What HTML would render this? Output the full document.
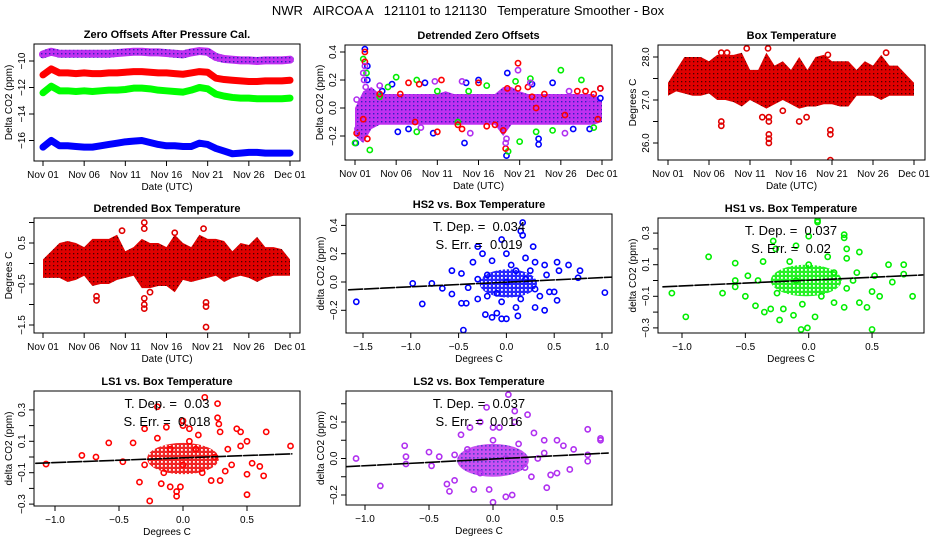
<!DOCTYPE html>
<html><head><meta charset="utf-8"><style>
html,body{margin:0;padding:0;background:#fff;}
svg{display:block;font-family:"Liberation Sans",sans-serif;}
</style></head><body>
<svg id="fig" width="936" height="540" viewBox="0 0 936 540" xmlns="http://www.w3.org/2000/svg">
<defs>
<pattern id="redPat" width="4" height="4" patternUnits="userSpaceOnUse"><rect width="4" height="4" fill="#e00000"/><rect x="1" y="1" width="1.3" height="1.3" fill="#400"/></pattern>
<pattern id="purPat" width="4" height="4" patternUnits="userSpaceOnUse"><rect width="4" height="4" fill="#c030f0"/><rect x="1" y="1" width="1.4" height="1.4" fill="#3020c0"/></pattern>
<pattern id="bluPat" width="4" height="4" patternUnits="userSpaceOnUse"><rect width="4" height="4" fill="#0000ff"/><rect x="1" y="1" width="1.8" height="1.8" fill="#fff"/></pattern>
<pattern id="grnPat" width="4" height="4" patternUnits="userSpaceOnUse"><rect width="4" height="4" fill="#00ee00"/><rect x="1" y="1" width="1.8" height="1.8" fill="#fff"/></pattern>
<pattern id="lsPat" width="4" height="4" patternUnits="userSpaceOnUse"><rect width="4" height="4" fill="#ee0000"/><rect x="1" y="1" width="1.8" height="1.8" fill="#fff"/></pattern>
<pattern id="ls2Pat" width="4" height="4" patternUnits="userSpaceOnUse"><rect width="4" height="4" fill="#c030f0"/><rect x="1" y="1" width="1.6" height="1.6" fill="#3020c0"/></pattern>
</defs>
<text x="468" y="15" font-size="13" text-anchor="middle" style="white-space:pre" xml:space="preserve">NWR   AIRCOA A   121101 to 121130   Temperature Smoother - Box</text>
</svg>
<script>
// ---- data ----
const dayTicks=[0,5,10,15,20,25,30];
const dayLabels=["Nov 01","Nov 06","Nov 11","Nov 16","Nov 21","Nov 26","Dec 01"];
const days=[0,1,2,3,4,5,6,7,8,9,10,11,12,13,14,15,16,17,18,19,20,21,22,23,24,25,26,27,28,29,30];
const offPurple=[-9.5,-9.3,-9.45,-9.45,-9.45,-9.45,-9.45,-9.45,-9.45,-9.4,-9.35,-9.3,-9.3,-9.35,-9.35,-9.4,-9.45,-9.5,-9.35,-9.25,-9.3,-9.7,-9.85,-9.9,-9.95,-9.95,-10.0,-9.95,-9.95,-9.95,-9.9];
const offRed=[-11.05,-10.6,-10.9,-10.9,-10.95,-10.9,-10.95,-10.95,-10.9,-10.9,-10.85,-10.8,-10.8,-10.85,-10.9,-10.9,-10.95,-11.0,-10.9,-10.8,-10.85,-11.3,-11.4,-11.45,-11.5,-11.55,-11.55,-11.5,-11.5,-11.5,-11.45];
const offGreen=[-12.4,-11.9,-12.25,-12.25,-12.3,-12.25,-12.3,-12.25,-12.2,-12.2,-12.15,-12.05,-12.05,-12.1,-12.2,-12.25,-12.3,-12.35,-12.2,-12.0,-12.1,-12.5,-12.65,-12.75,-12.8,-12.8,-12.85,-12.85,-12.85,-12.85,-12.8];
const offBlue=[-16.5,-16.0,-16.4,-16.4,-16.45,-16.5,-16.5,-16.4,-16.3,-16.2,-16.1,-16.05,-16.0,-16.15,-16.3,-16.4,-16.4,-16.45,-16.45,-16.2,-16.3,-16.6,-16.8,-17.0,-16.95,-16.9,-16.9,-16.95,-16.95,-16.95,-16.95];
const dzHi=[0.0,0.12,0.15,0.1,0.1,0.1,0.1,0.1,0.1,0.1,0.1,0.12,0.1,0.1,0.1,0.1,0.1,0.1,0.15,0.15,0.12,0.1,0.1,0.1,0.1,0.1,0.1,0.1,0.1,0.1,0.05];
const dzLo=[-0.2,-0.25,-0.15,-0.12,-0.12,-0.12,-0.12,-0.12,-0.12,-0.12,-0.12,-0.12,-0.12,-0.12,-0.12,-0.12,-0.12,-0.12,-0.2,-0.12,-0.12,-0.12,-0.12,-0.12,-0.12,-0.12,-0.12,-0.12,-0.12,-0.12,-0.1];
const dzBlue=[[0.1,-0.25],[1.2,0.42],[1.5,0.3],[1.5,0.2],[4.5,0.17],[3.3,0.12],[5.2,-0.17],[8.5,0.18],[9.5,-0.18],[13.3,-0.25],[13.5,0.18],[15,0.2],[18.4,-0.34],[18.5,0.25],[21.5,0.17],[22.3,-0.22],[22.3,-0.26],[24,0.18],[29.8,0.14],[29.8,0.07],[26.5,-0.15],[28.5,-0.15],[6.5,-0.15]];
const dzGreen=[[0,-0.25],[1.0,0.35],[1.4,0.25],[1.8,-0.3],[5,0.22],[4,0.15],[7.5,-0.17],[7.5,0.2],[10,0.12],[12.5,-0.1],[13.8,0.12],[16,0.16],[18.6,-0.31],[19.5,0.19],[20,-0.24],[21.3,0.21],[25,0.27],[27.5,0.2],[29,-0.14],[22,-0.17],[24,-0.16],[3,0.08]];
const dzRed=[[0.2,-0.18],[1.2,0.4],[1.2,0.33],[1.5,-0.22],[1.0,-0.08],[3,0.1],[5.5,0.1],[6.5,0.18],[7.3,-0.1],[7.8,0.17],[10.5,0.2],[10,-0.17],[12.5,-0.12],[13,-0.15],[15,0.18],[16,-0.13],[17,-0.12],[18,-0.16],[18.3,-0.29],[18.5,0.14],[19.8,0.32],[19.8,0.14],[21,0.15],[21.5,0.08],[22,0.0],[23,0.1],[25.5,-0.05],[27,0.12],[28,0.12],[29,0.1],[29.8,0.14],[29.5,-0.08]];
const dzPurple=[[0.2,0.06],[1.0,0.25],[1.1,0.2],[1.2,0.3],[1.3,0.15],[1.4,0.1],[0.3,-0.15],[3,0.16],[8.0,-0.14],[9.7,0.19],[13,0.19],[14,-0.18],[18.3,-0.25],[18.4,-0.22],[19.8,0.27],[21.3,0.18],[25.5,-0.18],[26,0.12],[28.5,0.06]];
const btHi=[27.4,27.7,28.0,28.0,28.0,27.9,28.05,28.05,28.05,28.1,27.7,27.7,28.1,27.8,27.9,27.7,28.0,27.7,28.0,28.05,27.9,27.9,27.9,27.7,27.9,27.8,28.05,27.8,27.8,27.6,27.4];
const btLo=[27.1,27.2,27.15,27.1,27.1,27.15,27.0,27.0,26.95,26.85,27.0,26.9,26.8,26.9,27.0,26.9,26.8,26.85,26.85,26.9,26.9,26.85,26.85,27.1,27.1,27.1,27.0,27.1,27.1,27.1,27.1];
const btOut=[[6.5,26.5],[6.5,26.4],[11.5,26.6],[12.3,26.0],[12.3,26.1],[12.3,26.2],[12.3,26.5],[12.3,26.6],[14,26.75],[19.8,26.2],[19.8,26.3],[19.8,25.6],[16,26.5],[16.9,26.6],[12.2,28.2],[9.6,28.2],[7.2,28.1],[6.5,28.1],[19.5,28.05],[26.6,28.1]];
const dbHi=[0.1,0.3,0.5,0.55,0.5,0.4,0.6,0.6,0.6,0.7,0.3,0.4,0.6,0.5,0.5,0.4,0.7,0.5,0.4,0.7,0.6,0.6,0.55,0.3,0.5,0.45,0.65,0.4,0.4,0.35,0.1];
const dbLo=[-0.35,-0.35,-0.35,-0.45,-0.4,-0.3,-0.55,-0.5,-0.5,-0.4,-0.35,-0.3,-0.6,-0.6,-0.55,-0.55,-0.7,-0.4,-0.45,-0.4,-0.35,-0.3,-0.45,-0.35,-0.3,-0.35,-0.45,-0.35,-0.3,-0.3,-0.3];
const dbOut=[[6.5,-0.8],[6.5,-0.9],[12.3,-0.85],[12.3,-1.0],[12.3,-1.1],[12.3,-0.5],[12.3,0.85],[12.3,1.0],[13,-0.7],[19.8,-0.95],[19.8,-1.05],[19.8,-1.55],[19.5,0.85],[16,0.75],[9.6,0.8]];
const hs2Pts=[[-1.57,-0.14],[-0.98,-0.01],[-0.88,-0.155],[-0.78,-0.01],[-0.67,-0.045],[-0.57,0.08],[-0.57,-0.085],[-0.47,0.06],[-0.45,-0.34],[-0.47,-0.15],[-0.42,-0.15],[-0.22,-0.23],[-0.15,-0.25],[-0.1,-0.22],[-0.05,-0.26],[0.0,-0.26],[0.12,-0.24],[0.17,0.42],[0.17,0.33],[0.15,0.36],[-0.05,0.3],[0.28,0.25],[0.3,-0.18],[0.4,-0.2],[0.53,-0.13],[0.53,0.14],[0.55,0.08],[0.65,0.12],[0.77,0.08],[0.75,0.03],[1.03,-0.075],[0.45,-0.07],[0.5,-0.07],[-0.3,0.25],[-0.25,0.2],[-0.35,0.14],[0.2,0.17],[0.4,0.12],[0.3,0.14],[-0.3,-0.12],[0.1,-0.18],[-0.4,-0.04],[0.2,0.02],[-0.2,0.05],[0.0,0.0],[0.1,0.08],[-0.1,-0.08],[0.3,-0.05],[-0.2,-0.1],[0.05,0.12],[-0.15,0.15],[0.25,0.08],[0.35,-0.1],[-0.05,-0.14],[0.15,-0.12],[0.42,0.05],[-0.3,0.02],[0.0,0.2]];
const hs1Pts=[[-1.08,-0.08],[-0.97,-0.23],[-0.79,0.15],[-0.68,-0.08],[-0.58,0.11],[-0.58,0.0],[-0.58,-0.04],[-0.5,-0.1],[-0.48,0.03],[-0.42,-0.16],[-0.36,0.12],[-0.35,-0.2],[-0.3,-0.18],[-0.28,0.25],[-0.26,0.2],[-0.23,-0.25],[-0.2,-0.18],[-0.12,-0.22],[-0.1,0.22],[-0.06,-0.31],[-0.01,-0.3],[0.0,0.28],[0.05,-0.23],[0.07,0.38],[0.07,0.37],[0.28,0.29],[0.28,0.27],[0.3,0.2],[0.28,-0.17],[0.3,0.14],[0.4,0.18],[0.38,0.05],[0.46,-0.17],[0.5,-0.31],[0.52,0.03],[0.56,-0.1],[0.63,0.1],[0.66,-0.01],[0.75,0.1],[0.75,0.04],[0.82,-0.1],[0.5,-0.07],[0.4,-0.14],[0.2,-0.14],[-0.4,0.0],[0.15,0.15],[-0.15,0.12],[0.1,-0.1],[-0.1,0.0],[0.2,0.05],[-0.25,-0.08],[0.3,-0.05],[0.0,0.1],[-0.05,-0.15],[0.35,0.0]];
const ls1Pts=[[-1.07,-0.045],[-0.79,0.01],[-0.68,0.0],[-0.58,0.09],[-0.47,-0.03],[-0.39,0.09],[-0.34,-0.16],[-0.3,0.18],[-0.26,-0.28],[-0.2,0.32],[-0.17,-0.17],[-0.13,0.19],[-0.1,-0.19],[-0.05,-0.22],[-0.05,-0.25],[-0.02,-0.19],[0.0,0.2],[0.0,0.23],[0.05,0.18],[0.17,0.38],[0.27,0.34],[0.27,0.25],[0.28,0.21],[0.29,0.16],[0.22,-0.15],[0.29,-0.15],[0.33,-0.09],[0.42,0.18],[0.45,0.16],[0.5,-0.11],[0.5,-0.24],[0.5,0.1],[0.54,-0.04],[0.6,-0.06],[0.63,-0.12],[0.65,0.16],[0.84,0.07],[0.38,-0.05],[0.45,0.07],[0.12,0.14],[-0.2,0.12],[0.0,-0.05],[0.1,0.05],[-0.1,0.05],[0.25,0.0],[-0.3,-0.05],[0.15,-0.1],[-0.15,-0.1],[0.05,0.1],[0.35,0.05]];
const ls2Pts=[[-1.07,0.0],[-0.88,-0.15],[-0.69,0.07],[-0.68,0.01],[-0.68,-0.03],[-0.5,0.035],[-0.48,-0.04],[-0.42,0.01],[-0.34,-0.18],[-0.36,-0.14],[-0.3,-0.12],[-0.25,0.13],[-0.18,0.17],[-0.15,-0.17],[-0.1,0.2],[-0.05,0.28],[-0.03,-0.17],[0.0,-0.24],[0.0,0.17],[0.05,0.17],[0.1,-0.21],[0.15,-0.2],[0.17,0.2],[0.17,0.26],[0.27,0.24],[0.12,0.35],[0.3,-0.1],[0.32,0.14],[0.4,0.1],[0.42,-0.16],[0.45,-0.09],[0.5,0.1],[0.5,-0.08],[0.55,0.07],[0.6,-0.06],[0.63,0.05],[0.74,0.16],[0.74,-0.015],[0.74,0.02],[0.84,0.1],[0.84,0.11],[0.35,0.0],[-0.2,0.05],[0.1,0.0],[0.2,0.08],[-0.1,-0.08],[0.25,-0.05],[-0.3,0.02],[0.0,0.1],[0.4,0.03]];
const hs2Fit=[-1.65,-0.055,1.12,0.035];
const hs1Fit=[-1.15,-0.04,0.9,0.035];
const ls1Fit=[-1.15,-0.04,0.85,0.02];
const ls2Fit=[-1.15,-0.045,0.9,0.03];
const tempTicks=[-1.5,-1.0,-0.5,0.0,0.5,1.0];
const tempTicks2=[-1.0,-0.5,0.0,0.5];

// ---- helpers ----
const NS="http://www.w3.org/2000/svg";
const svg=document.getElementById('fig');
function el(tag,attrs,parent,txt){const e=document.createElementNS(NS,tag);for(const k in attrs)e.setAttribute(k,attrs[k]);if(txt!==undefined)e.textContent=txt;(parent||svg).appendChild(e);return e;}
function lin(d0,d1,r0,r1){return v=>r0+(v-d0)*(r1-r0)/(d1-d0);}

function panel(id,box,title,xs,ys,xt,xl,yt,yl,xlab,ylab){
  const g=el('g',{},svg);
  
  
  const [L,T,R,B]=box;
  const t=el('text',{x:(L+R)/2,y:T-6,'font-size':11,'font-weight':'bold','text-anchor':'middle'},g,title);
  
  
  xt.forEach((v,i)=>{const x=xs(v);
    const tk=el('line',{x1:x,y1:B,x2:x,y2:B+5,stroke:'#000'},g);
    
    
    if(xl[i]!==''){const tl=el('text',{x:x,y:B+17,'font-size':10,'text-anchor':'middle'},g,xl[i]);
      
      }
  });
  const xa=el('line',{x1:xs(xt[0]),y1:B,x2:xs(xt[xt.length-1]),y2:B,stroke:'#000'},g);
  
  
  yt.forEach((v,i)=>{const y=ys(v);
    const tk=el('line',{x1:L-5,y1:y,x2:L,y2:y,stroke:'#000'},g);
    
    
    if(yl[i]!==''){const tl=el('text',{x:L-9,y:y,'font-size':10,'text-anchor':'middle',transform:`rotate(-90 ${L-9} ${y})`},g,yl[i]);
      
      }
  });
  const ya=el('line',{x1:L,y1:ys(yt[0]),x2:L,y2:ys(yt[yt.length-1]),stroke:'#000'},g);
  
  
  const xlb=el('text',{x:(L+R)/2,y:B+29,'font-size':10,'text-anchor':'middle'},g,xlab);
  
  
  const yx=L-22,yy=(T+B)/2;
  const ylb=el('text',{x:yx,y:yy,'font-size':10,'text-anchor':'middle',transform:`rotate(-90 ${yx} ${yy})`},g,ylab);
  
  
  const cp='clip-'+id;
  const c=el('clipPath',{id:cp},g);el('rect',{x:L,y:T,width:R-L,height:B-T},c);
  const plot=el('g',{'clip-path':`url(#${cp})`},g);
  
  
  const bx=el('rect',{x:L,y:T,width:R-L,height:B-T,fill:'none',stroke:'#000'},g);
  
  
  return plot;
}
function pts(plot,arr,xs,ys,col,name){arr.forEach(p=>{
  const c=el('circle',{cx:xs(p[0]),cy:ys(p[1]),r:2.6,fill:'none',stroke:col,'stroke-width':1.6},plot);
  
  });}
function band(plot,xv,hi,lo,xs,ys,fill,name){
  let d='M'+xv.map((x,i)=>xs(x)+','+ys(hi[i])).join(' L');
  d+=' L'+xv.map((x,i)=>[x,i]).reverse().map(([x,i])=>xs(x)+','+ys(lo[i])).join(' L')+'Z';
  const p=el('path',{d:d,fill:fill},plot);
  
  }
function line(plot,xv,yv,xs,ys,col,w,name,dash){
  const p=el('polyline',{points:xv.map((x,i)=>xs(x)+','+ys(yv[i])).join(' '),fill:'none',stroke:col,'stroke-width':w,'stroke-linejoin':'round','stroke-linecap':'round'},plot);
  if(dash)p.setAttribute('stroke-dasharray',dash);
  
  }
function fmt(a,d){return a.map(v=>v.toFixed(d).replace('-','\u2212'));}

// ---- Panel 1 ----
{const xs=lin(0,30,43,290),ys=lin(-10,-16,61,140.5);
 const p=panel('zero-offsets',[34,44,300,161],'Zero Offsets After Pressure Cal.',xs,ys,dayTicks,dayLabels,[-16,-14,-12,-10],fmt([-16,-14,-12,-10],0),'Date (UTC)','Delta CO2 (ppm)');
 line(p,days,offPurple,xs,ys,'url(#purPat)',8,'ls2-offset-line');
 line(p,days,offRed,xs,ys,'#ff0000',7,'ls1-offset-line');
 line(p,days,offGreen,xs,ys,'#00ff00',7,'hs1-offset-line');
 line(p,days,offBlue,xs,ys,'#0000ff',7,'hs2-offset-line');}
// ---- Panel 2 ----
{const xs=lin(0,30,355,602),ys=lin(0,0.2,108,80);
 const yt=[-0.2,0,0.2,0.4];
 const p=panel('detrended-zero',[345,45,612,160],'Detrended Zero Offsets',xs,ys,dayTicks,dayLabels,yt,fmt(yt,1),'Date (UTC)','Delta CO2 (ppm)');
 band(p,days,dzHi,dzLo,xs,ys,'url(#purPat)','offset-density-band');
 pts(p,dzBlue,xs,ys,'#0000ff','hs2-point');
 pts(p,dzGreen,xs,ys,'#00ee00','hs1-point');
 pts(p,dzRed,xs,ys,'#ff0000','ls1-point');
 pts(p,dzPurple,xs,ys,'#b030f0','ls2-point');}
// ---- Panel 3 ----
{const xs=lin(0,30,668,914),ys=lin(28,26,57,143);
 const yt=[26,26.5,27,27.5,28];
 const p=panel('box-temp',[658,45,925,160],'Box Temperature',xs,ys,dayTicks,dayLabels,yt,['26.0','','27.0','','28.0'],'Date (UTC)','Degrees C');
 band(p,days,btHi,btLo,xs,ys,'url(#redPat)','temperature-band');
 pts(p,btOut,xs,ys,'#e00000','temperature-point');}
// ---- Panel 4 ----
{const xs=lin(0,30,43,290),ys=lin(0,0.5,263.5,243);
 const p=panel('detrended-box-temp',[34,218,300,333],'Detrended Box Temperature',xs,ys,dayTicks,dayLabels,tempTicks,['\u22121.5','','\u22120.5','','0.5',''],'Date (UTC)','Degrees C');
 band(p,days,dbHi,dbLo,xs,ys,'url(#redPat)','temperature-band');
 pts(p,dbOut,xs,ys,'#e00000','temperature-point');}
// ---- scatter panels ----
function scatter(id,box,title,xs,ys,xt,yt,yl,data,fit,col,pat,core,tdep,serr){
  const p=panel(id,box,title,xs,ys,xt,fmt(xt,1),yt,yl,'Degrees C','delta CO2 (ppm)');
  const e=el('ellipse',{cx:xs(core[0]),cy:ys(core[1]),rx:Math.abs(xs(core[2])-xs(0)),ry:Math.abs(ys(core[3])-ys(0)),fill:pat,opacity:0.85},p);
  
  
  pts(p,data,xs,ys,col,'scatter-point');
  line(p,[fit[0],fit[2]],[fit[1],fit[3]],xs,ys,'#000',1.6,'regression-line','14 2');
  const cx=(box[0]+box[2])/2;
  const t1=el('text',{x:cx,y:box[1]+17,'font-size':13,'text-anchor':'middle',fill:'#000'},p.parentNode,'T. Dep. =  '+tdep);
  t1.setAttribute('style','white-space:pre');
  
  
  const t2=el('text',{x:cx,y:box[1]+35,'font-size':13,'text-anchor':'middle',fill:'#000'},p.parentNode,'S. Err. =  '+serr);
  t2.setAttribute('style','white-space:pre');
  
  
}
{const yt=[-0.2,0,0.2,0.4];
 scatter('hs2-vs-temp',[346,214,612,333],'HS2 vs. Box Temperature',lin(0,1,506.4,602),lin(0,0.2,282,253.7),tempTicks,yt,fmt(yt,1),hs2Pts,hs2Fit,'#0000ff','url(#bluPat)',[0.02,-0.01,0.3,0.1],'0.034','0.019');}
{const yt=[-0.3,-0.2,-0.1,0,0.1,0.2,0.3];
 scatter('hs1-vs-temp',[658,218,924,333],'HS1 vs. Box Temperature',lin(0,1,808.7,935.4),lin(0,0.1,280.5,264.7),tempTicks2,yt,['\u22120.3','','\u22120.1','','0.1','','0.3'],hs1Pts,hs1Fit,'#00ee00','url(#grnPat)',[-0.02,0.0,0.28,0.1],'0.037','0.02');
 scatter('ls1-vs-temp',[34,391,300,506],'LS1 vs. Box Temperature',lin(0,1,183,311),lin(0,0.1,457,441.3),tempTicks2,yt,['\u22120.3','','\u22120.1','','0.1','','0.3'],ls1Pts,ls1Fit,'#ff0000','url(#lsPat)',[0,-0.01,0.28,0.1],'0.03','0.018');}
{const yt=[-0.2,-0.1,0,0.1,0.2,0.3];
 scatter('ls2-vs-temp',[346,391,612,505],'LS2 vs. Box Temperature',lin(0,1,493,621),lin(0,0.2,458.5,422),tempTicks2,yt,['\u22120.2','','0.0','','0.2',''],ls2Pts,ls2Fit,'#b030f0','url(#ls2Pat)',[0,-0.01,0.28,0.09],'0.037','0.016');}
</script>
</body></html>
